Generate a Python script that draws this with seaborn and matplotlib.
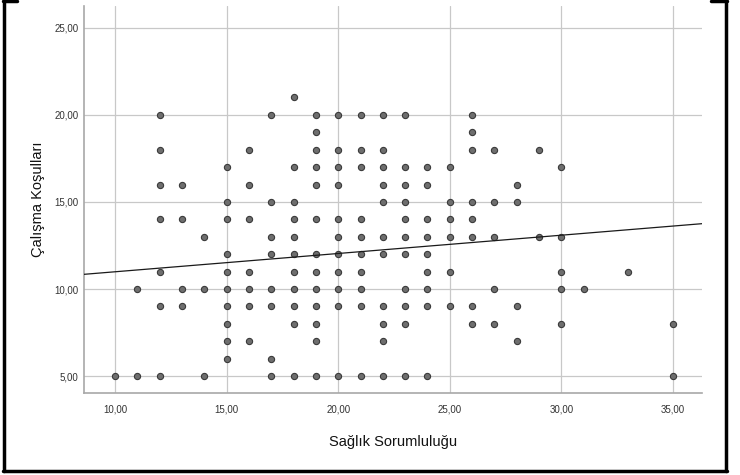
import matplotlib
matplotlib.use("Agg")
import matplotlib.pyplot as plt
import seaborn as sns
import pandas as pd
from matplotlib.ticker import FuncFormatter, FixedLocator
from matplotlib.lines import Line2D

# Data (x value -> list of y values)
saglik_x = [10, 11, 12, 13, 14, 15, 16, 17, 18, 19, 20, 21, 22, 23, 24, 25, 26, 27, 28, 29, 30, 31, 33, 35]
calisma_y = [
    [5],
    [5, 10],
    [20, 18, 16, 14, 11, 9, 5],
    [16, 14, 10, 9],
    [13, 10, 5],
    [17, 15, 14, 12, 11, 10, 9, 8, 7, 6],
    [18, 16, 14, 11, 10, 9, 7],
    [20, 15, 13, 12, 10, 9, 6, 5],
    [21, 17, 15, 14, 13, 12, 11, 10, 9, 8, 5],
    [20, 19, 18, 17, 16, 14, 12, 11, 10, 9, 8, 7, 5],
    [20, 18, 17, 16, 14, 13, 12, 11, 10, 9, 5],
    [20, 18, 17, 14, 13, 12, 11, 10, 9, 5],
    [20, 18, 17, 16, 15, 13, 12, 9, 8, 7, 5],
    [20, 17, 16, 15, 14, 13, 12, 10, 9, 8, 5],
    [17, 16, 14, 13, 12, 11, 10, 9, 5],
    [17, 15, 14, 13, 11, 9],
    [20, 19, 18, 15, 14, 13, 9, 8],
    [18, 15, 13, 10, 8],
    [16, 15, 9, 7],
    [18, 13],
    [17, 13, 11, 10, 8],
    [10],
    [11],
    [8, 5],
]
# Fit line as shown in the reference (y = intercept + slope * x)
fit_intercept = 9.94
fit_slope = 0.105

x_ticks = [10, 15, 20, 25, 30, 35]
y_ticks = [5, 10, 15, 20, 25]
x_label = "Sağlık Sorumluluğu"
y_label = "Çalışma Koşulları"

rows = [(x, y) for x, ys in zip(saglik_x, calisma_y) for y in ys]
df = pd.DataFrame(rows, columns=["x", "y"])

sns.set_theme(style="white")
plt.rcParams["font.family"] = ["Liberation Sans", "DejaVu Sans"]

fig = plt.figure(figsize=(7.4, 4.75), dpi=100)
ax = fig.add_axes([84 / 740, 1 - 393 / 475, (702 - 84) / 740, (393 - 6) / 475])

xlim = (8.61, 36.3)
ylim = (4.03, 26.25)
ax.set_xlim(*xlim)
ax.set_ylim(*ylim)

ax.xaxis.set_major_locator(FixedLocator(x_ticks))
ax.yaxis.set_major_locator(FixedLocator(y_ticks))
ax.grid(True, color="#c8c8c8", linewidth=0.9)
ax.set_axisbelow(True)

sns.scatterplot(data=df, x="x", y="y", ax=ax, s=20, color="#6e6e6e",
                edgecolor="#3a3a3a", linewidth=0.8, zorder=3)

fit_df = pd.DataFrame({"x": list(xlim)})
fit_df["y"] = fit_intercept + fit_slope * fit_df["x"]
sns.lineplot(data=fit_df, x="x", y="y", ax=ax, color="#1a1a1a", linewidth=0.9, zorder=4)

fmt = FuncFormatter(lambda v, p: f"{v:.2f}".replace(".", ","))
ax.xaxis.set_major_formatter(fmt)
ax.yaxis.set_major_formatter(fmt)
ax.tick_params(axis="x", length=0, labelsize=7, colors="#333333", pad=8)
ax.tick_params(axis="y", length=0, labelsize=7, colors="#333333", pad=4)

for s in ["top", "right"]:
    ax.spines[s].set_visible(False)
for s in ["left", "bottom"]:
    ax.spines[s].set_color("#a8a8a8")
    ax.spines[s].set_linewidth(1.2)

ax.set_xlabel(x_label, fontsize=10.5, color="#111111", labelpad=15)
ax.set_ylabel(y_label, fontsize=10.5, color="#111111", labelpad=7)

# Black frame around the image
def fline(x0, y0, x1, y1):
    fig.add_artist(Line2D([x0 / 740, x1 / 740], [1 - y0 / 475, 1 - y1 / 475],
                          color="black", linewidth=2.5, transform=fig.transFigure))

fline(4, 0, 4, 471)
fline(3, 471, 727, 471)
fline(726, 0, 726, 471)
fline(3, 1, 17, 1)
fline(711, 1, 727, 1)

fig.savefig("out.png", dpi=100)
